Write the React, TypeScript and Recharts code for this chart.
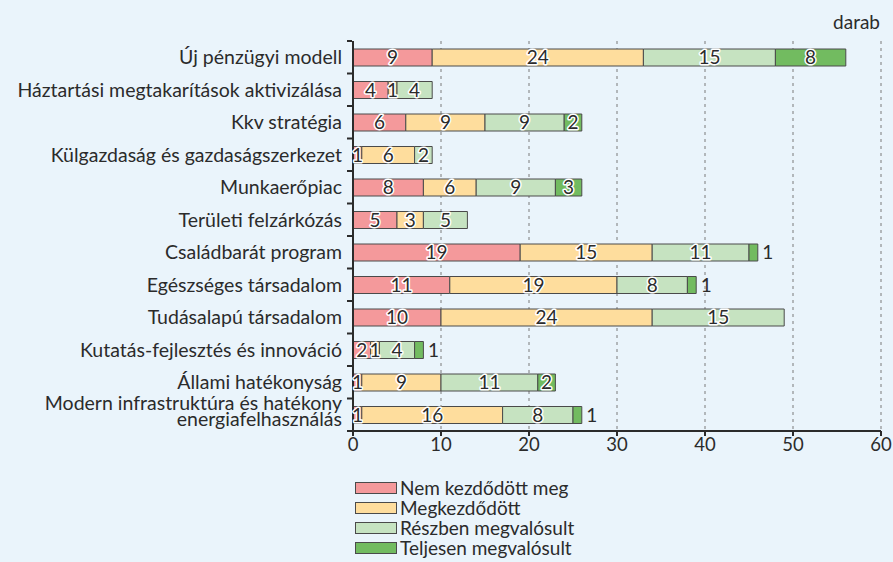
import { BarChart, Bar, XAxis, YAxis, CartesianGrid, LabelList } from 'recharts';

const categories = [
  'Új pénzügyi modell',
  'Háztartási megtakarítások aktivizálása',
  'Kkv stratégia',
  'Külgazdaság és gazdaságszerkezet',
  'Munkaerőpiac',
  'Területi felzárkózás',
  'Családbarát program',
  'Egészséges társadalom',
  'Tudásalapú társadalom',
  'Kutatás-fejlesztés és innováció',
  'Állami hatékonyság',
  'Modern infrastruktúra és hatékony\nenergiafelhasználás',
];

const nemKezdodott = [9, 4, 6, 1, 8, 5, 19, 11, 10, 2, 1, 1];
const megkezdodott = [24, 1, 9, 6, 6, 3, 15, 19, 24, 1, 9, 16];
const reszben = [15, 4, 9, 2, 9, 5, 11, 8, 15, 4, 11, 8];
const teljesen = [8, 0, 2, 0, 3, 0, 1, 1, 0, 1, 2, 1];

const xTicks = [0, 10, 20, 30, 40, 50, 60];

const series = [
  { key: 'nem', name: 'Nem kezdődött meg', color: '#F4999B' },
  { key: 'meg', name: 'Megkezdődött', color: '#FEDD9D' },
  { key: 'resz', name: 'Részben megvalósult', color: '#C6E3C1' },
  { key: 'telj', name: 'Teljesen megvalósult', color: '#72BB60' },
];

const data = categories.map((name, i) => ({
  name,
  nem: nemKezdodott[i],
  meg: megkezdodott[i],
  resz: reszben[i],
  telj: teljesen[i],
}));

const FONT = 'Lato, "Open Sans", sans-serif';
const TEXT = '#2b2b2b';
const PLOT_TOP = 41;
const PLOT_H = 390;
const STEP = PLOT_H / categories.length;

const CategoryTick = (props: any) => {
  const { x, y, payload, index } = props;
  const lines = String(payload.value).split('\n');
  const lh = 16;
  const y0 = y - ((lines.length - 1) * lh) / 2 - (lines.length > 1 ? 4 : 0);
  return (
    <g>
      <line x1={x + 2} x2={x + 7} y1={y - STEP / 2} y2={y - STEP / 2} stroke={TEXT} strokeWidth={2} />
      {index === categories.length - 1 && (
        <line x1={x + 2} x2={x + 7} y1={y + STEP / 2} y2={y + STEP / 2} stroke={TEXT} strokeWidth={2} />
      )}
      <text x={x - 3} y={y0} textAnchor="end" fontSize={19.5} fill={TEXT} fontFamily={FONT}>
        {lines.map((l, j) => (
          <tspan key={j} x={x - 3} y={y0 + j * lh} dy="0.35em">
            {l}
          </tspan>
        ))}
      </text>
    </g>
  );
};

const makeLabel = (last: boolean) => (props: any) => {
  const { x, y, width, height, value } = props;
  if (!value) return null;
  const outside = last && value === 1;
  const cx = outside ? x + width + 10 : x + width / 2;
  return (
    <text
      x={cx}
      y={y + height / 2}
      dy="0.36em"
      textAnchor="middle"
      fontSize={19}
      fontFamily={FONT}
      fill={TEXT}
      stroke={outside ? 'none' : '#fff'}
      strokeWidth={3}
      paintOrder="stroke"
      strokeLinejoin="round"
    >
      {value}
    </text>
  );
};

export default function App() {
  return (
    <div
      style={{
        position: 'absolute',
        left: 0,
        top: 0,
        width: 893,
        height: 562,
        overflow: 'hidden',
        background: '#EAF4FB',
        fontFamily: FONT,
      }}
    >
      <div
        style={{
          position: 'absolute',
          right: 13,
          top: 10,
          fontSize: 19,
          color: TEXT,
        }}
      >
        darab
      </div>
      <BarChart
        width={893}
        height={470}
        data={data}
        layout="vertical"
        barCategoryGap={8}
        margin={{ top: PLOT_TOP, right: 12, bottom: 0, left: 0 }}
      >
        <CartesianGrid horizontal={false} stroke="#7a7a7a" strokeDasharray="3 4" />
        <XAxis
          type="number"
          domain={[0, 60]}
          ticks={xTicks}
          interval={0}
          height={39}
          axisLine={{ stroke: TEXT, strokeWidth: 2 }}
          tickLine={{ stroke: TEXT, strokeWidth: 2 }}
          tickSize={5}
          tick={{ fontSize: 18.5, fill: TEXT, fontFamily: FONT }}
        />
        <XAxis
          xAxisId="top"
          orientation="top"
          type="number"
          domain={[0, 60]}
          height={0}
          tick={false}
          tickLine={false}
          axisLine={{ stroke: TEXT, strokeWidth: 2 }}
        />
        <YAxis
          type="category"
          dataKey="name"
          width={353}
          interval={0}
          tickLine={false}
          axisLine={{ stroke: TEXT, strokeWidth: 2 }}
          tick={<CategoryTick />}
        />
        {series.map((s, i) => (
          <Bar
            key={s.key}
            dataKey={s.key}
            name={s.name}
            stackId="a"
            fill={s.color}
            stroke="#4a4a4a"
            strokeWidth={1}
            isAnimationActive={false}
          >
            <LabelList dataKey={s.key} content={makeLabel(i === series.length - 1)} />
          </Bar>
        ))}
      </BarChart>
      <div style={{ position: 'absolute', left: 355, top: 478 }}>
        {series.map((s) => (
          <div key={s.key} style={{ display: 'flex', alignItems: 'center', height: 20 }}>
            <span
              style={{
                width: 40,
                height: 10,
                background: s.color,
                border: '1px solid #4a4a4a',
                marginRight: 3,
                flexShrink: 0,
              }}
            />
            <span style={{ fontSize: 19, color: TEXT, lineHeight: '20px' }}>{s.name}</span>
          </div>
        ))}
      </div>
    </div>
  );
}
